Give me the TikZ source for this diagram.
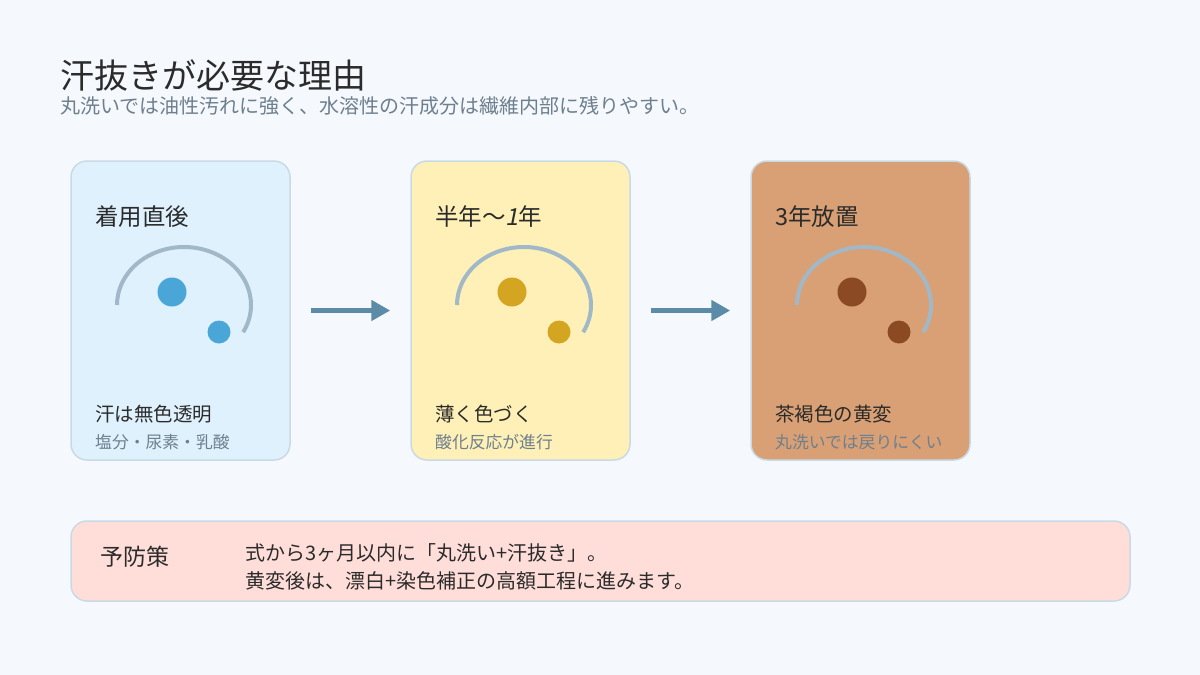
\documentclass[tikz,border=0pt]{standalone}
\usepackage{fontspec}
\setmainfont{Noto Sans CJK JP}
\newfontfamily\slantdigit[FakeSlant=0.2]{Noto Sans CJK JP}
\usetikzlibrary{arrows.meta}

\definecolor{bgcol}{HTML}{F5F9FE}
\definecolor{cardline}{HTML}{C9DAE6}
\definecolor{freshfill}{HTML}{DFF1FD}
\definecolor{freshdot}{HTML}{4BA6D8}
\definecolor{halffill}{HTML}{FEF0B6}
\definecolor{halfdot}{HTML}{D4A521}
\definecolor{oldfill}{HTML}{D8A074}
\definecolor{olddot}{HTML}{8B4A24}
\definecolor{ringcol}{HTML}{A0B8C8}
\definecolor{flowcol}{HTML}{5B8BA6}
\definecolor{inkcol}{HTML}{2B2B2B}
\definecolor{mutedcol}{HTML}{6E7F8E}
\definecolor{tipfill}{HTML}{FFDEDA}

\tikzset{
	card/.style={draw=cardline, line width=1.5pt, rounded corners=16pt, minimum width=219pt, minimum height=299pt, inner sep=0pt},
	ring/.style={draw=ringcol, line width=4pt},
	headtext/.style={anchor=west, inner sep=0pt, text=inkcol, font=\fontsize{23.5}{28}\selectfont},
	labeltext/.style={anchor=west, inner sep=0pt, text=inkcol, font=\fontsize{19.5}{23}\selectfont},
	subtext/.style={anchor=west, inner sep=0pt, text=mutedcol, font=\fontsize{16.8}{20}\selectfont},
	flow/.style={draw=flowcol, line width=5pt, -{Triangle[length=19pt,width=20pt]}, shorten <=20pt, shorten >=20pt},
}

\begin{document}
\begin{tikzpicture}[x=1pt, y=-1pt]
	\fill[bgcol] (0,0) rectangle (1200,675);
	\useasboundingbox (0,0) rectangle (1200,675);

	%% Titel
	\node[anchor=west, inner sep=0pt, text=inkcol, font=\fontsize{34}{40}\selectfont] (title) at (60,76) {汗抜きが必要な理由};
	\node[anchor=west, inner sep=0pt, text=mutedcol, font=\fontsize{20}{24}\selectfont] (subtitle) at (60,106) {丸洗いでは油性汚れに強く、水溶性の汗成分は繊維内部に残りやすい。};

	%% Karte 1
\begin{scope}
	\node[card, fill=freshfill] (c1) at (180.5,310.5) {};
	\draw[ring] (117,305) arc[start angle=180, end angle=388, x radius=67, y radius=58];
	\fill[freshdot] (172,292) circle (14.5);
	\fill[freshdot] (219,332) circle (11.5);
	\node[headtext] (h1) at (95,217) {着用直後};
	\node[labeltext] (l1) at (95,414) {汗は無色透明};
	\node[subtext] (s1) at (95,442) {塩分・尿素・乳酸};
\end{scope}

	%% Karte 2
\begin{scope}[shift={(340,0)}]
	\node[card, fill=halffill] (c2) at (180.5,310.5) {};
	\draw[ring] (117,305) arc[start angle=180, end angle=388, x radius=67, y radius=58];
	\fill[halfdot] (172,292) circle (14.5);
	\fill[halfdot] (219,332) circle (11.5);
	\node[headtext] (h2) at (95,217) {半年〜{\slantdigit 1}年};
	\node[labeltext] (l2) at (95,414) {薄く色づく};
	\node[subtext] (s2) at (95,442) {酸化反応が進行};
\end{scope}

	%% Karte 3
\begin{scope}[shift={(680,0)}]
	\node[card, fill=oldfill] (c3) at (180.5,310.5) {};
	\draw[ring] (117,305) arc[start angle=180, end angle=388, x radius=67, y radius=58];
	\fill[olddot] (172,292) circle (14.5);
	\fill[olddot] (219,332) circle (11.5);
	\node[headtext] (h3) at (95,217) {3年放置};
	\node[labeltext] (l3) at (95,414) {茶褐色の黄変};
	\node[subtext] (s3) at (95,442) {丸洗いでは戻りにくい};
\end{scope}

	%% Pfeile
	\draw[flow] (c1) -- (c2);
	\draw[flow] (c2) -- (c3);

	%% Vorbeugung
	\node[card, fill=tipfill, minimum width=1059pt, minimum height=80pt] (tip) at (600.5,561) {};
	\node[anchor=west, inner sep=0pt, text=inkcol, font=\fontsize{23}{27}\selectfont] (tiphead) at (100,557) {予防策};
	\node[anchor=west, inner sep=0pt, text=inkcol, font=\fontsize{20}{24}\selectfont] (tipa) at (245,553) {式から3ヶ月以内に「丸洗い+汗抜き」。};
	\node[anchor=west, inner sep=0pt, text=inkcol, font=\fontsize{20}{24}\selectfont] (tipb) at (245,581) {黄変後は、漂白+染色補正の高額工程に進みます。};
\end{tikzpicture}
\end{document}
